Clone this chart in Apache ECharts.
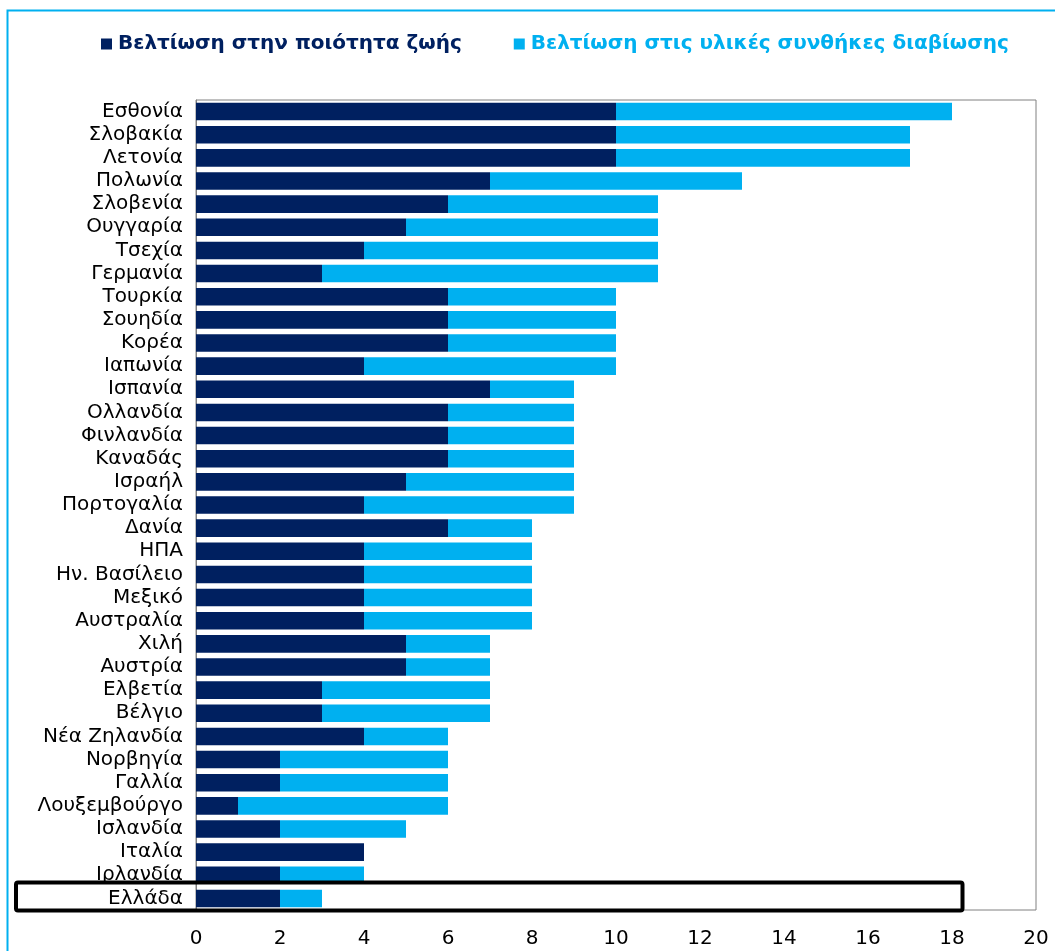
<!DOCTYPE html>
<html>
<head>
<meta charset="utf-8">
<script src="https://cdn.jsdelivr.net/npm/echarts@6/dist/echarts.min.js"></script>
<style>
html, body { margin: 0; padding: 0; background: #fff; }
#chart { width: 1055px; height: 951px; }
</style>
</head>
<body>
<div id="chart"></div>
<script>
const countries = ['Εσθονία', 'Σλοβακία', 'Λετονία', 'Πολωνία', 'Σλοβενία', 'Ουγγαρία', 'Τσεχία', 'Γερμανία',
    'Τουρκία', 'Σουηδία', 'Κορέα', 'Ιαπωνία', 'Ισπανία', 'Ολλανδία', 'Φινλανδία', 'Καναδάς', 'Ισραήλ',
    'Πορτογαλία', 'Δανία', 'ΗΠΑ', 'Ην. Βασίλειο', 'Μεξικό', 'Αυστραλία', 'Χιλή', 'Αυστρία', 'Ελβετία',
    'Βέλγιο', 'Νέα Ζηλανδία', 'Νορβηγία', 'Γαλλία', 'Λουξεμβούργο', 'Ισλανδία', 'Ιταλία', 'Ιρλανδία', 'Ελλάδα'];
const qualityOfLife = [10, 10, 10, 7, 6, 5, 4, 3, 6, 6, 6, 4, 7, 6, 6, 6, 5, 4, 6, 4, 4, 4, 4, 5, 5, 3, 3, 4, 2, 2, 1, 2, 4, 2, 2];
const livingConditions = [8, 7, 7, 6, 5, 6, 7, 8, 4, 4, 4, 6, 2, 3, 3, 3, 4, 5, 2, 4, 4, 4, 4, 2, 2, 4, 4, 2, 4, 4, 5, 3, 0, 2, 1];
const xTicks = [0, 2, 4, 6, 8, 10, 12, 14, 16, 18, 20];
const highlighted = 'Ελλάδα';

const myChart = echarts.init(document.getElementById('chart'));

myChart.setOption({
    animation: false,
    textStyle: { fontFamily: 'DejaVu Sans, sans-serif' },
    legend: {
        left: 96,
        top: 29,
        itemWidth: 11,
        itemHeight: 11,
        itemGap: 52,
        icon: 'rect',
        data: [
            { name: 'Βελτίωση στην ποιότητα ζωής', textStyle: { color: '#002060' } },
            { name: 'Βελτίωση στις υλικές συνθήκες διαβίωσης', textStyle: { color: '#00B0F0' } }
        ],
        textStyle: { fontSize: 20, fontWeight: 'bold', padding: [0, 0, 0, 1] }
    },
    grid: {
        left: 196,
        right: 19,
        top: 100,
        bottom: 41,
        show: true,
        borderColor: '#808080',
        borderWidth: 1
    },
    xAxis: {
        type: 'value',
        min: xTicks[0],
        max: xTicks[xTicks.length - 1],
        interval: 2,
        splitLine: { show: false },
        axisLine: { show: false },
        axisTick: { show: false },
        axisLabel: { color: '#000', fontSize: 20, margin: 19 }
    },
    yAxis: {
        type: 'category',
        data: countries,
        inverse: true,
        axisLine: { show: true, lineStyle: { color: '#808080' } },
        axisTick: { show: false },
        axisLabel: { color: '#000', fontSize: 20, margin: 13, interval: 0 }
    },
    series: [
        {
            name: 'Βελτίωση στην ποιότητα ζωής',
            type: 'bar',
            stack: 'total',
            data: qualityOfLife,
            barWidth: '76%',
            itemStyle: { color: '#002060' }
        },
        {
            name: 'Βελτίωση στις υλικές συνθήκες διαβίωσης',
            type: 'bar',
            stack: 'total',
            data: livingConditions,
            barWidth: '76%',
            itemStyle: { color: '#00B0F0' }
        }
    ]
});

// outer frame and highlight box around Greece
const rowTop = myChart.convertToPixel({ yAxisIndex: 0 }, highlighted) - 17;
const boxRight = myChart.convertToPixel({ xAxisIndex: 0 }, 18.25);
myChart.setOption({
    graphic: [
        {
            type: 'rect',
            shape: { x: 7.5, y: 10.5, width: 1100, height: 1000 },
            style: { fill: 'none', stroke: '#00B0F0', lineWidth: 2 },
            silent: true
        },
        {
            type: 'rect',
            shape: { x: 16, y: rowTop + 1, width: boxRight - 16, height: 28, r: 2 },
            style: { fill: 'none', stroke: '#000', lineWidth: 4 },
            z: 100,
            silent: true
        }
    ]
});
</script>
</body>
</html>
